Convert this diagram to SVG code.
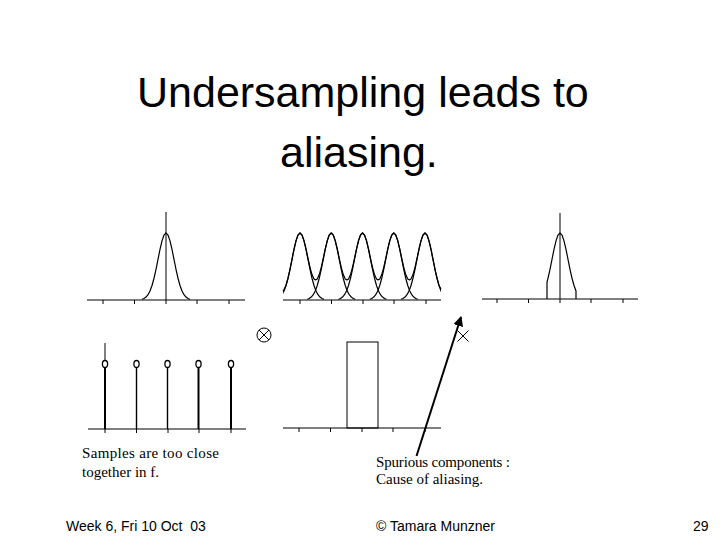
<svg xmlns="http://www.w3.org/2000/svg" xmlns:xlink="http://www.w3.org/1999/xlink" width="720" height="540" viewBox="0 0 720 540">
<style>
.ax{stroke:#000;stroke-width:1;fill:none}
.tk{stroke:#000;stroke-width:1}
.cv{stroke:#000;stroke-width:1.2;fill:none;stroke-linejoin:round}
.title{font-family:"Liberation Sans",Arial,sans-serif;font-size:43px;fill:#000}
.note{font-family:"Liberation Serif","Times New Roman",serif;font-size:15px;fill:#000}
.foot{font-family:"Liberation Sans",Arial,sans-serif;font-size:14px;fill:#000}
</style>
<defs>
<path id="g" d="M-24,-0.74 L-22,-1.53 -20,-2.94 -18,-5.33 -16,-9.07 -14,-14.49 -12,-21.75 -10,-30.67 -8,-40.64 -6,-50.57 -4,-59.13 -2,-64.94 0,-67 2,-64.94 4,-59.13 6,-50.57 8,-40.64 10,-30.67 12,-21.75 14,-14.49 16,-9.07 18,-5.33 20,-2.94 22,-1.53 24,-0.74"/>
<g id="ticks"><path d="M0,0v4M31.5,0v4M63,0v4M94,0v4M126,0v4"/></g>
<clipPath id="c2"><rect x="283" y="200" width="158" height="100"/></clipPath>
<marker id="ah" viewBox="0 0 10 10" refX="9" refY="5" markerWidth="10" markerHeight="10" markerUnits="userSpaceOnUse" orient="auto"><path d="M0,0L10,5L0,10z" fill="#000"/></marker>
</defs>
<rect width="720" height="540" fill="#fff"/>
<g id="title">
<text class="title" x="137" y="107">Undersampling leads to</text>
<text class="title" x="280" y="167">aliasing.</text>
</g>
<g id="panel-spectrum">
<line class="ax" x1="87" y1="300" x2="245" y2="300"/>
<line class="ax" x1="166" y1="212" x2="166" y2="300"/>
<use href="#ticks" xlink:href="#ticks" x="103" y="300" class="tk" stroke="#000"/>
<use href="#g" xlink:href="#g" x="166" y="300" class="cv"/>
</g>
<g id="panel-replicas">
<line class="ax" x1="283" y1="300" x2="441" y2="300"/>
<use href="#ticks" xlink:href="#ticks" x="300" y="300" stroke="#000"/>
<g clip-path="url(#c2)" class="cv" stroke-width="1">
<use href="#g" xlink:href="#g" x="300" y="300"/>
<use href="#g" xlink:href="#g" x="331.25" y="300"/>
<use href="#g" xlink:href="#g" x="362.5" y="300"/>
<use href="#g" xlink:href="#g" x="393.75" y="300"/>
<use href="#g" xlink:href="#g" x="425" y="300"/>
</g>
<polyline class="cv" points="283,291 284,289.5 286,285.51 288,278.25 290,269.33 292,259.36 294,249.43 296,240.87 298,235.06 300,233 302,234.98 304,240.67 306,248.97 308,258.38 310,267.36 312,274.54 314,278.96 315.63,280 317.25,278.96 319.25,274.54 321.25,267.36 323.25,258.38 325.25,248.97 327.25,240.67 329.25,234.98 331.25,233 333.25,234.98 335.25,240.67 337.25,248.97 339.25,258.38 341.25,267.36 343.25,274.54 345.25,278.96 346.88,280 348.5,278.96 350.5,274.54 352.5,267.36 354.5,258.38 356.5,248.97 358.5,240.67 360.5,234.98 362.5,233 364.5,234.98 366.5,240.67 368.5,248.97 370.5,258.38 372.5,267.36 374.5,274.54 376.5,278.96 378.13,280 379.75,278.96 381.75,274.54 383.75,267.36 385.75,258.38 387.75,248.97 389.75,240.67 391.75,234.98 393.75,233 395.75,234.98 397.75,240.67 399.75,248.97 401.75,258.38 403.75,267.36 405.75,274.54 407.75,278.96 409.38,280 411,278.96 413,274.54 415,267.36 417,258.38 419,248.97 421,240.67 423,234.98 425,233 427,235.06 429,240.87 431,249.43 433,259.36 435,269.33 437,278.25 439,285.51 441,289"/>
</g>
<g id="panel-filtered">
<line class="ax" x1="482" y1="299" x2="638" y2="299"/>
<line class="ax" x1="560" y1="213" x2="560" y2="299"/>
<use href="#ticks" xlink:href="#ticks" x="497" y="299" stroke="#000"/>
<polyline class="cv" points="547,299 547,282.1 548,278.25 550,269.33 552,259.36 554,249.43 556,240.87 558,235.06 560,233 562,235.06 564,240.87 566,249.43 568,259.36 570,269.33 572,278.25 574,285.51 576,290.93 576,299"/>
</g>
<g id="panel-samples">
<line class="ax" x1="88" y1="429" x2="246" y2="429"/>
<use href="#ticks" xlink:href="#ticks" x="105" y="429" stroke="#000"/>
<line x1="105" y1="343" x2="105" y2="360.5" stroke="#000" stroke-width="1"/>
<g stroke="#000" fill="#fff">
<line x1="105" y1="367.5" x2="105" y2="429" stroke-width="2"/>
<line x1="136.5" y1="367.5" x2="136.5" y2="429" stroke-width="1.4"/>
<line x1="167.5" y1="367.5" x2="167.5" y2="429" stroke-width="1.4"/>
<line x1="198.5" y1="367.5" x2="198.5" y2="429" stroke-width="2"/>
<line x1="231" y1="367.5" x2="231" y2="429" stroke-width="2"/>
<ellipse cx="105" cy="364" rx="2.6" ry="3.5" stroke-width="1.3"/>
<ellipse cx="136.5" cy="364" rx="2.6" ry="3.5" stroke-width="1.3"/>
<ellipse cx="167.5" cy="364" rx="2.6" ry="3.5" stroke-width="1.3"/>
<ellipse cx="198.5" cy="364" rx="2.6" ry="3.5" stroke-width="1.3"/>
<ellipse cx="231" cy="364" rx="2.6" ry="3.5" stroke-width="1.3"/>
</g>
</g>
<g id="op-convolve" stroke="#000" stroke-width="1" fill="none">
<circle cx="264" cy="335" r="7"/>
<path d="M259,330L269,340M269,330L259,340"/>
</g>
<g id="panel-box">
<line class="ax" x1="283" y1="428" x2="441" y2="428"/>
<use href="#ticks" xlink:href="#ticks" x="299" y="428" stroke="#000"/>
<rect x="347" y="342" width="31" height="86" fill="none" stroke="#000" stroke-width="1"/>
</g>
<g id="op-multiply" stroke="#000" stroke-width="1">
<path d="M457.5,330.5L468.5,341.5M468.5,330.5L457.5,341.5"/>
</g>
<g id="connectors">
<line x1="416.5" y1="456" x2="461" y2="317" stroke="#000" stroke-width="2" marker-end="url(#ah)"/>
</g>
<g id="notes">
<text class="note" x="82" y="458" textLength="137" lengthAdjust="spacing">Samples are too close</text>
<text class="note" x="82" y="477">together in f.</text>
<text class="note" x="376" y="467" textLength="134" lengthAdjust="spacing">Spurious components :</text>
<text class="note" x="376" y="484">Cause of aliasing.</text>
</g>
<g id="footer">
<text class="foot" x="66" y="531" xml:space="preserve">Week 6, Fri 10 Oct  03</text>
<text class="foot" x="376" y="531">© Tamara Munzner</text>
<text class="foot" x="693" y="531">29</text>
</g>
</svg>
